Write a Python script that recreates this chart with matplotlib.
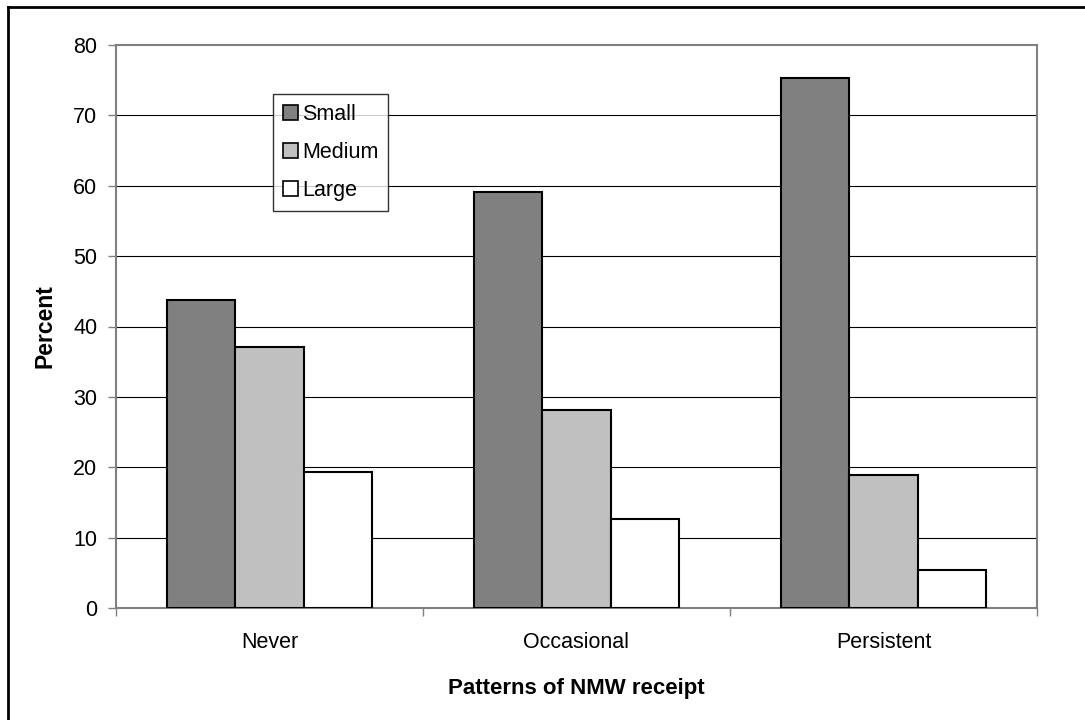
import matplotlib
matplotlib.use("Agg")
import matplotlib.pyplot as plt
from matplotlib.lines import Line2D
from matplotlib.patches import Patch
import numpy as np

plt.rcParams['font.family'] = ['Liberation Sans', 'DejaVu Sans']

categories = ["Never", "Occasional", "Persistent"]
series_names = ["Small", "Medium", "Large"]
small = [43.8, 59.1, 75.3]
medium = [37.1, 28.2, 18.9]
large = [19.3, 12.7, 5.4]
colors = ["#808080", "#C0C0C0", "#FFFFFF"]
yticks = [0, 10, 20, 30, 40, 50, 60, 70, 80]

fig = plt.figure(figsize=(10.85, 7.2), dpi=100)
ax = fig.add_axes([116/1085, 1-608/720, (1037-116)/1085, (608-45)/720])

x = np.arange(len(categories))
bw = 1/4.5
for i, (vals, c, name) in enumerate(zip([small, medium, large], colors, series_names)):
    ax.bar(x + (i-1)*bw, vals, width=bw, color=c, edgecolor='black', linewidth=1.5, zorder=3, label=name)

ax.set_xlim(-0.5, 2.5)
ax.set_ylim(0, 80)
ax.set_yticks(yticks)
ax.set_yticklabels([str(t) for t in yticks], fontsize=15.5)
for t in yticks[1:-1]:
    ax.axhline(t, color='black', linewidth=0.8, zorder=1)

ax.set_xticks([-0.5, 0.5, 1.5, 2.5])
ax.set_xticklabels([])
ax.set_xticks(x, minor=True)
ax.set_xticklabels(categories, minor=True, fontsize=15.5)
ax.tick_params(axis='x', which='minor', length=0, pad=17)
ax.tick_params(axis='x', which='major', length=6, width=1, color='#808080', direction='out')
ax.tick_params(axis='y', length=6, width=1, color='#808080', direction='out', pad=7.5)

for s in ax.spines.values():
    s.set_color('#808080')
    s.set_linewidth(1.5)

ax.set_ylabel("Percent", fontsize=16.5, fontweight='bold', labelpad=12)
ax.set_xlabel("Patterns of NMW receipt", fontsize=16, fontweight='bold', labelpad=18)

handles = [Patch(facecolor=c, edgecolor='black', linewidth=1.2) for c in colors]
leg = ax.legend(handles, series_names, loc='upper left', bbox_to_anchor=((273-116)/921, 1-(94-45)/563),
                fontsize=15.5, frameon=True, fancybox=False, shadow=False, borderaxespad=0,
                handlelength=0.7, handleheight=0.7, handletextpad=0.2, labelspacing=0.8,
                borderpad=0.45)
leg.get_frame().set_edgecolor('black')
leg.get_frame().set_linewidth(1.0)
leg.set_zorder(5)

fig.add_artist(Line2D([7.5/1085, 7.5/1085], [0, 1-6.5/720], transform=fig.transFigure, color='black', linewidth=2))
fig.add_artist(Line2D([7.5/1085, 1], [1-6.5/720, 1-6.5/720], transform=fig.transFigure, color='black', linewidth=2))

fig.savefig("out.png", dpi=100)
